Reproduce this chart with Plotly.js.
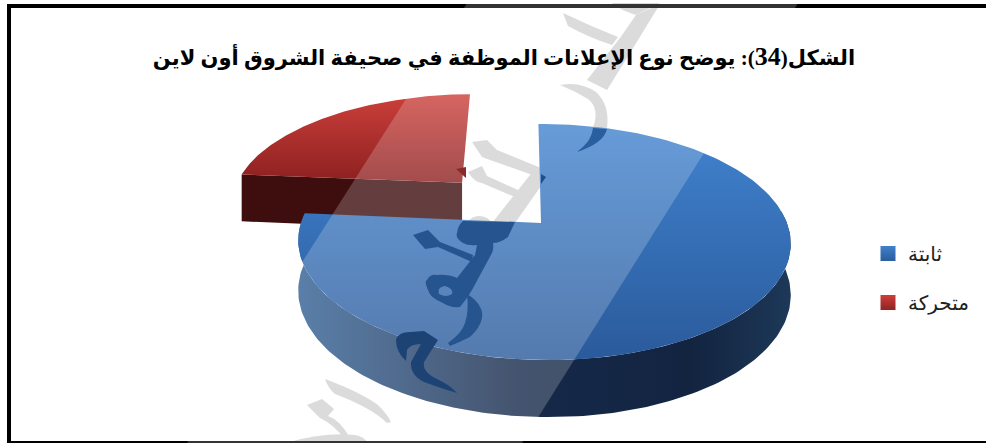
<!DOCTYPE html>
<html lang="ar">
<head>
<meta charset="utf-8">
<script src="https://cdn.plot.ly/plotly-3.0.1.min.js"></script>
<style>html,body{margin:0;padding:0;background:#fff;overflow:hidden}</style>
</head>
<body>
<div id="chart" style="width:986px;height:443px"></div>
<script>
// Advert types in the newspaper, in percent
const categories = ['ثابتة', 'متحركة'];
const shares = [76.4, 23.6];
const chartTitle = '\u202Bالشكل(<span style="font-size:26px;font-family:Liberation Serif">34</span>): يوضح نوع الإعلانات الموظفة في صحيفة الشروق أون لاين\u202C';

// Perspective projection of the pie disc into page pixels
const cx = 541, cy = 223, rx = 243, ry = 115, tiltK = 0.161, tiltM = 0.012, skew = -3, wall = 50;
const explodeDist = 0.505;

function project(u, v, drop) {
  const w = 1 + tiltK * v - tiltM * u;
  return [cx + (rx * u + skew * v) / w, cy - ry * v / w + (drop ? wall / Math.pow(w, 0.75) : 0)];
}
function rim(deg, ou, ov, drop) {
  const t = deg * Math.PI / 180;
  return project(ou + Math.sin(t), ov + Math.cos(t), drop);
}
function arc(from, to, ou, ou2, drop) {
  const pts = [], n = 160;
  for (let i = 0; i <= n; i++) pts.push(rim(from + (to - from) * i / n, ou, ou2, drop));
  return pts;
}
function polyTrace(pts, fillgradient, extra) {
  const xs = pts.map(p => p[0]), ys = pts.map(p => p[1]);
  xs.push(xs[0]); ys.push(ys[0]);
  return Object.assign({
    type: 'scatter', mode: 'lines', x: xs, y: ys, fill: 'toself',
    line: {width: 0, color: 'rgba(0,0,0,0)'}, fillgradient,
    hoverinfo: 'skip', showlegend: false
  }, extra || {});
}
const vertical = (stops) => ({type: 'vertical', colorscale: stops});
const horizontal = (stops) => ({type: 'horizontal', colorscale: stops});

const total = shares[0] + shares[1];
const blueEnd = shares[0] / total * 360;
const midAngle = (blueEnd + 360) / 2 * Math.PI / 180;
const ox = explodeDist * Math.sin(midAngle), oy = explodeDist * Math.cos(midAngle);

// Exploded slice: cut wall, then top face
const redRimStart = rim(blueEnd, ox, oy, false), redRimStartLow = rim(blueEnd, ox, oy, true);
const redWall = polyTrace(
  [redRimStart, project(ox, oy, false), project(ox, oy, true), redRimStartLow],
  horizontal([[0, '#3e0e0e'], [1, '#3e0e0e']]));
const redTop = polyTrace(
  [project(ox, oy, false)].concat(arc(blueEnd, 360, ox, oy, false)),
  vertical([[0, '#8c2020'], [1, '#cc3f3a']]));

// Main slice: outer wall, then top face
const blueWall = polyTrace(
  arc(84, Math.min(blueEnd, 275), 0, 0, false).concat(arc(Math.min(blueEnd, 275), 84, 0, 0, true)),
  horizontal([[0, '#315f93'], [0.45, '#16294a'], [0.8, '#122440'], [1, '#1d3858']]));
const blueTop = polyTrace(
  [project(0, 0, false)].concat(arc(0, blueEnd, 0, 0, false)),
  vertical([[0, '#2a5a9b'], [1, '#4183cf']]));

// Legend entries
const keyBlue = {type: 'scatter', mode: 'markers', x: [-50], y: [-50], name: categories[0], legendgroup: 'a',
  marker: {symbol: 'square', size: 15, color: '#4080cc', gradient: {type: 'vertical', color: '#2a5c9c'}}, hoverinfo: 'skip'};
const keyRed = {type: 'scatter', mode: 'markers', x: [-50], y: [-50], name: categories[1], legendgroup: 'b',
  marker: {symbol: 'square', size: 15, color: '#cf3d38', gradient: {type: 'vertical', color: '#8e2424'}}, hoverinfo: 'skip'};

// Frame, translucent diagonal band and calligraphic overlay on the page
const solid = (path, fill, layer) => ({type: 'path', path, xref: 'x', yref: 'y', fillcolor: fill, line: {width: 0}, layer: layer || 'above'});
const greyInk = '#d2d2d2', inkBlue = '#26548e', inkDeep = '#1d4374';
const shapes = [
  // grey strokes sit behind the pie
  solid('M 612,3 Q 620,10 636,15 L 660,3 Z', greyInk, 'below'),
  solid('M 660,4 L 638,40 L 607,90 L 587,80 L 620,38 L 636,15 Z', greyInk, 'below'),
  solid('M 563,13 L 568,26 Q 590,38 612,45 L 618,37 Q 590,26 563,13 Z', greyInk, 'below'),
  solid('M 560,85 Q 580,81 596,92 Q 610,105 607,128 L 593,128 Q 600,108 588,99 Q 575,91 560,85 Z', greyInk, 'below'),
  solid('M 472,142 L 487,140 L 497,150 L 541,168 L 541,178 L 490,160 L 482,157 Z', greyInk, 'below'),
  solid('M 468,172 L 482,166 L 487,176 L 518,190 L 515,197 L 482,183 Q 475,183 468,172 Z', greyInk, 'below'),
  solid('M 534,170 L 541,176 L 541,186 L 515,223 L 492,223 Z', greyInk, 'below'),
  solid('M 466,223 Q 475,212 487,218 L 493,223 Z', greyInk, 'below'),
  solid('M 325,379 Q 360,392 378,405 Q 388,415 391,422 L 387,423 Q 372,408 335,394 Q 328,388 325,379 Z', greyInk, 'below'),
  solid('M 307,405 L 322,399 L 334,409 L 328,416 Q 340,420 350,438 L 345,440 Q 335,425 320,418 Z', greyInk, 'below'),
  solid('M 290,442 Q 325,432 355,435 Q 363,436 368,443 Z', greyInk, 'below'),
  // frame
  solid('M 7,4 H 986 V 8 H 11 V 441 H 986 V 443 H 7 Z', '#000000'),
  // diagonal band
  solid('M 469,0 L 800,0 L 522,443 L 187,443 Z', 'rgba(255,255,255,0.2)'),
  // dark strokes over the pie
  solid('M 593,128 L 607,129 Q 604,143 577,152 Q 592,141 593,128 Z', '#2a5f9f'),
  solid('M 541,174 L 546,177 L 541,184 Z', '#1f4e8a'),
  solid('M 456,169 L 466,167 L 466,178 Z', '#8c2a2a'),
  solid('M 463,221 L 515,222 L 508,237 Q 500,243 493,243 Q 494,248 492,253 L 472,290 Q 466,300 460,307 Q 450,308 443,303 Q 430,298 428,290 Q 424,281 427,280 Q 430,274 437,275 Q 448,274 457,278 L 475,255 L 477,245 Q 468,246 463,243 Q 455,238 457,233 Q 458,225 463,221 Z M 445,286 Q 437,287 439,294 Q 446,298 452,294 Q 454,289 445,286 Z', inkBlue),
  solid('M 413,235 L 428,230 L 440,242 L 473,255 L 472,262 L 438,247 L 425,249 Z', inkBlue),
  solid('M 467,294 Q 477,300 480,307 Q 483,312 482,318 Q 480,328 470,337 Q 460,342 450,346 L 448,343 Q 462,333 465,323 Q 469,312 467,294 Z', inkBlue),
  solid('M 396,340 Q 398,332 410,332 L 424,331 L 438,340 L 424,362 Q 422,372 437,379 Q 450,385 457,393 Q 440,388 424,382 Q 410,375 411,362 L 421,344 Q 410,344 407,350 L 406,361 Q 396,352 396,340 Z', inkDeep)
];

const layout = {
  width: 986, height: 443,
  margin: {l: 0, r: 0, t: 0, b: 0},
  paper_bgcolor: '#ffffff', plot_bgcolor: 'rgba(0,0,0,0)',
  xaxis: {range: [0, 986], visible: false, fixedrange: true},
  yaxis: {range: [443, 0], visible: false, fixedrange: true},
  title: {
    text: chartTitle,
    x: 504 / 986, xanchor: 'center', xref: 'paper',
    y: 1 - 58 / 443, yanchor: 'middle', yref: 'paper',
    font: {family: '"Liberation Serif","DejaVu Sans",serif', size: 21, color: '#000000', weight: 700}
  },
  legend: {
    x: 868 / 986, xanchor: 'left', y: 1 - 234 / 443, yanchor: 'top',
    bgcolor: 'rgba(0,0,0,0)', tracegroupgap: 20, itemclick: false, itemdoubleclick: false,
    font: {family: '"Liberation Sans","DejaVu Sans",sans-serif', size: 20, color: '#222222'}
  },
  shapes
};

Plotly.newPlot('chart', [redWall, redTop, blueWall, blueTop, keyBlue, keyRed], layout, {displayModeBar: false, staticPlot: true});
</script>
</body>
</html>
